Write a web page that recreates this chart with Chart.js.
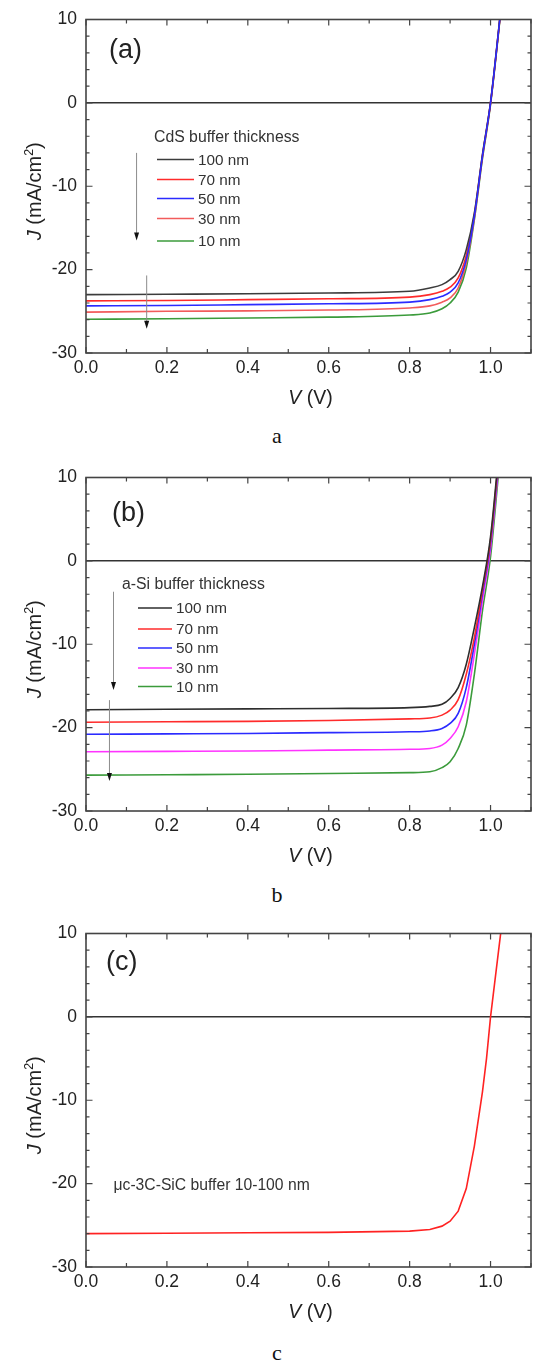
<!DOCTYPE html>
<html><head><meta charset="utf-8">
<script src="https://cdn.jsdelivr.net/npm/chart.js@4.4.0/dist/chart.umd.min.js"></script>
<style>
html,body{margin:0;padding:0;background:#fff;}
#page{position:relative;width:536px;height:1363px;overflow:hidden;background:#fff;}
canvas{position:absolute;left:0;}
.cap{position:absolute;left:9px;width:536px;text-align:center;font-family:"Liberation Serif","Times New Roman",serif;font-size:22px;line-height:24px;color:#111;}
</style></head><body>
<div id="page">
<canvas id="ca" width="536" height="420" style="top:0px"></canvas>
<div class="cap" style="top:424px">a</div>
<canvas id="cb" width="536" height="420" style="top:458px"></canvas>
<div class="cap" style="top:883px">b</div>
<canvas id="cc" width="536" height="420" style="top:914px"></canvas>
<div class="cap" style="top:1341px">c</div>
</div>
<script>
const FONT = '"Liberation Sans", Arial, Helvetica, sans-serif';

// ---------- data ----------
const xTickLabels = ['0.0','0.2','0.4','0.6','0.8','1.0'];
const yTickLabels = ['10','0','-10','-20','-30'];

// (a) CdS buffer
const voltsA = [0, 0.2, 0.4, 0.6, 0.8, 0.85, 0.88, 0.9, 0.92, 0.94, 0.96, 0.98, 1.0, 1.02, 1.03];
const cdsLabels = ['100 nm','70 nm','50 nm','30 nm','10 nm'];
const cds100 = [-23.0, -22.95, -22.9, -22.8, -22.6, -22.2, -21.8, -21.2, -20.2, -17.6, -13.2, -6.2, 0.1, 8.8, 13.5];
const cds70  = [-23.75, -23.7, -23.6, -23.5, -23.3, -23.0, -22.6, -22.1, -21.0, -18.3, -13.4, -6.3, 0.0, 8.7, 13.4];
const cds50  = [-24.35, -24.3, -24.2, -24.1, -23.9, -23.6, -23.2, -22.7, -21.6, -18.8, -13.6, -6.4, 0.0, 8.7, 13.4];
const cds30  = [-25.1, -25.0, -24.95, -24.85, -24.6, -24.35, -23.9, -23.4, -22.2, -19.2, -13.8, -6.5, -0.1, 8.6, 13.3];
const cds10  = [-25.95, -25.9, -25.8, -25.7, -25.45, -25.2, -24.7, -24.0, -22.7, -19.8, -14.0, -6.7, -0.2, 8.5, 13.2];
const arrowsA = [{x:0.125, from:-6.0, to:-16.5}, {x:0.15, from:-20.7, to:-27.1}];

// (b) a-Si buffer
const voltsB = [0, 0.2, 0.4, 0.6, 0.8, 0.85, 0.88, 0.9, 0.92, 0.94, 0.96, 0.98, 1.0, 1.02];
const aSiLabels = ['100 nm','70 nm','50 nm','30 nm','10 nm'];
const aSi100 = [-17.85, -17.8, -17.75, -17.7, -17.6, -17.45, -17.2, -16.5, -15.2, -12.4, -8.0, -3.1, 2.9, 12.7];
const aSi70  = [-19.35, -19.3, -19.25, -19.15, -18.95, -18.85, -18.5, -17.9, -16.65, -13.6, -9.2, -3.5, 2.5, 12.3];
const aSi50  = [-20.8, -20.75, -20.7, -20.6, -20.5, -20.4, -20.1, -19.5, -18.3, -15.2, -10.0, -4.0, 2.1, 11.9];
const aSi30  = [-22.9, -22.85, -22.8, -22.7, -22.6, -22.5, -22.1, -21.3, -19.9, -16.9, -11.2, -4.8, 1.5, 11.3];
const aSi10  = [-25.7, -25.65, -25.6, -25.5, -25.4, -25.3, -24.8, -24.1, -22.5, -19.7, -13.6, -6.0, 0.5, 10.6];
const arrowsB = [{x:0.068, from:-3.7, to:-15.5}, {x:0.058, from:-16.7, to:-26.4}];

// (c) uc-3C-SiC buffer
const voltsC = [0, 0.2, 0.4, 0.6, 0.8, 0.85, 0.88, 0.9, 0.92, 0.94, 0.96, 0.98, 0.99, 1.0, 1.02, 1.03];
const sicLabel = 'μc-3C-SiC buffer 10-100 nm';
const sicJ = [-26.0, -25.95, -25.9, -25.85, -25.7, -25.5, -25.1, -24.5, -23.3, -20.6, -15.5, -9.0, -5.0, 0.0, 8.0, 12.0];

// ---------- helpers ----------
const pts = (xs, ys) => xs.map((v, i) => ({x: v, y: ys[i]}));

function drawRuns(ctx, runs, x, y) {
  let cx = x;
  for (const r of runs) {
    const size = r.sup ? r.size * 0.62 : r.size;
    ctx.font = (r.italic ? 'italic ' : '') + size + 'px ' + FONT;
    ctx.fillText(r.t, cx, r.sup ? y - r.size * 0.42 : y);
    cx += ctx.measureText(r.t).width;
  }
  return cx - x;
}
function runsWidth(ctx, runs) {
  let w = 0;
  for (const r of runs) {
    const size = r.sup ? r.size * 0.62 : r.size;
    ctx.font = (r.italic ? 'italic ' : '') + size + 'px ' + FONT;
    w += ctx.measureText(r.t).width;
  }
  return w;
}

const decor = {
  id: 'decor',
  afterDraw(chart, args, o) {
    const {ctx, chartArea: a, scales: {x, y}} = chart;
    ctx.save();
    // inward ticks on all four sides
    ctx.strokeStyle = '#444';
    ctx.lineWidth = 1.2;
    ctx.beginPath();
    for (let i = 0; i <= 11; i++) {
      const px = x.getPixelForValue(i / 10);
      const len = i % 2 === 0 ? 6 : 4;
      ctx.moveTo(px, a.bottom); ctx.lineTo(px, a.bottom - len);
      ctx.moveTo(px, a.top); ctx.lineTo(px, a.top + len);
    }
    for (let v = -30; v <= 10; v += 2) {
      const py = y.getPixelForValue(v);
      const len = v % 10 === 0 ? 6.5 : 3.5;
      ctx.moveTo(a.left, py); ctx.lineTo(a.left + len, py);
      ctx.moveTo(a.right, py); ctx.lineTo(a.right - len, py);
    }
    ctx.stroke();
    // frame
    ctx.lineWidth = 1.6;
    ctx.strokeStyle = '#444';
    ctx.strokeRect(a.left, a.top, a.right - a.left, a.bottom - a.top);

    ctx.fillStyle = '#222';
    ctx.textBaseline = 'alphabetic';
    ctx.textAlign = 'left';
    // x title
    const xr = [{t:'V', italic:true, size:19.5}, {t:' (V)', size:19.5}];
    const xw = runsWidth(ctx, xr);
    drawRuns(ctx, xr, (a.left + a.right) / 2 + 2 - xw / 2, a.bottom + 51);
    // y title (rotated)
    const yr = [{t:'J', italic:true, size:20}, {t:' (mA/cm', size:20}, {t:'2', sup:true, size:20}, {t:')', size:20}];
    const yw = runsWidth(ctx, yr);
    ctx.save();
    ctx.translate(41, (a.top + a.bottom) / 2 + 5);
    ctx.rotate(-Math.PI / 2);
    drawRuns(ctx, yr, -yw / 2, 0);
    ctx.restore();

    // panel label
    ctx.textBaseline = 'middle';
    ctx.font = '27px ' + FONT;
    ctx.fillStyle = '#222';
    ctx.fillText(o.panel, a.left + o.panelDx, a.top + o.panelDy);

    // legend
    if (o.legend) {
      const L = o.legend;
      ctx.font = '15.8px ' + FONT;
      ctx.fillStyle = '#333';
      ctx.fillText(L.title, a.left + L.titleDx, a.top + L.titleDy);
      ctx.font = '15.3px ' + FONT;
      chart.data.datasets.forEach((ds, i) => {
        if (!ds.label) return;
        const yy = a.top + L.ys[i];
        ctx.strokeStyle = ds.borderColor;
        ctx.lineWidth = 1.6;
        ctx.beginPath();
        ctx.moveTo(a.left + L.lineX0, yy); ctx.lineTo(a.left + L.lineX1, yy);
        ctx.stroke();
        ctx.fillStyle = '#333';
        ctx.fillText(ds.label, a.left + L.textDx, yy + 1);
      });
    }
    // note text (data coords)
    if (o.note) {
      ctx.font = '15.7px ' + FONT;
      ctx.fillStyle = '#333';
      ctx.fillText(o.note.text, x.getPixelForValue(o.note.x), y.getPixelForValue(o.note.y));
    }
    // arrows (data coords)
    (o.arrows || []).forEach(ar => {
      const px = x.getPixelForValue(ar.x);
      const p0 = y.getPixelForValue(ar.from);
      const p1 = y.getPixelForValue(ar.to);
      ctx.strokeStyle = '#8c8c8c';
      ctx.lineWidth = 1;
      ctx.beginPath(); ctx.moveTo(px, p0); ctx.lineTo(px, p1 - 5); ctx.stroke();
      ctx.fillStyle = '#111';
      ctx.beginPath();
      ctx.moveTo(px, p1); ctx.lineTo(px - 2.5, p1 - 8); ctx.lineTo(px + 2.5, p1 - 8); ctx.closePath();
      ctx.fill();
    });
    ctx.restore();
  }
};

function makeChart(id, datasets, padTop, decorOpts) {
  return new Chart(document.getElementById(id), {
    type: 'line',
    data: {datasets},
    plugins: [decor],
    options: {
      responsive: false,
      animation: false,
      devicePixelRatio: 1,
      layout: {padding: {top: padTop, right: 4, left: 0, bottom: 0}},
      elements: {point: {radius: 0}, line: {borderWidth: 1.6}},
      plugins: {legend: {display: false}, tooltip: {enabled: false}, decor: decorOpts},
      scales: {
        x: {
          type: 'linear', min: 0, max: 1.1,
          grid: {display: false, drawTicks: false},
          border: {display: false},
          ticks: {
            stepSize: 0.1, autoSkip: false, maxRotation: 0, padding: 5,
            color: '#222', font: {family: FONT, size: 17.5},
            callback: v => { const l = (Math.round(v * 10) / 10).toFixed(1); return xTickLabels.includes(l) ? l : ''; }
          },
          afterFit: s => { s.height = 67; }
        },
        y: {
          type: 'linear', min: -30, max: 10,
          grid: {drawTicks: false, lineWidth: 1.5,
                 color: c => (c.tick && c.tick.value === 0) ? '#333' : 'rgba(0,0,0,0)'},
          border: {display: false},
          ticks: {
            stepSize: 2, autoSkip: false, padding: 9,
            color: '#222', font: {family: FONT, size: 17.5},
            callback: v => yTickLabels.includes(String(v)) ? String(v) : ''
          },
          afterFit: s => { s.width = 86; }
        }
      }
    }
  });
}

const line = (label, xs, ys, color, extra) => Object.assign({
  label, data: pts(xs, ys), borderColor: color, backgroundColor: color,
  fill: false, cubicInterpolationMode: 'monotone', borderWidth: 1.6
}, extra || {});

// (a)
const colA = ['#3c3c3c', '#ff2b2b', '#2b2bff', '#f25c5c', '#3b9b3b'];
makeChart('ca', [
  line(cdsLabels[0], voltsA, cds100, colA[0]),
  line(cdsLabels[1], voltsA, cds70, colA[1]),
  line(cdsLabels[2], voltsA, cds50, colA[2], {order: -1}),
  line(cdsLabels[3], voltsA, cds30, colA[3]),
  line(cdsLabels[4], voltsA, cds10, colA[4])
], 19, {
  panel: '(a)', panelDx: 23, panelDy: 31,
  legend: {title: 'CdS buffer thickness', titleDx: 68, titleDy: 118,
           lineX0: 71, lineX1: 108, textDx: 112, ys: [140, 160, 179, 199, 221.5]},
  arrows: arrowsA
});

// (b)
const colB = ['#2e2e2e', '#ff2b2b', '#2b2bff', '#ff33ff', '#3b9b3b'];
makeChart('cb', [
  line(aSiLabels[0], voltsB, aSi100, colB[0]),
  line(aSiLabels[1], voltsB, aSi70, colB[1]),
  line(aSiLabels[2], voltsB, aSi50, colB[2]),
  line(aSiLabels[3], voltsB, aSi30, colB[3]),
  line(aSiLabels[4], voltsB, aSi10, colB[4])
], 19.5, {
  panel: '(b)', panelDx: 26, panelDy: 36.5,
  legend: {title: 'a-Si buffer thickness', titleDx: 36, titleDy: 107,
           lineX0: 52, lineX1: 86, textDx: 90, ys: [130.5, 151.5, 170.5, 190.5, 209]},
  arrows: arrowsB
});

// (c)
makeChart('cc', [
  {label: '', data: pts(voltsC, sicJ), borderColor: '#ff2222', borderWidth: 1.6, tension: 0, fill: false}
], 19, {
  panel: '(c)', panelDx: 20, panelDy: 29,
  note: {text: sicLabel, x: 0.068, y: -20.3}
});
</script>
</body></html>
